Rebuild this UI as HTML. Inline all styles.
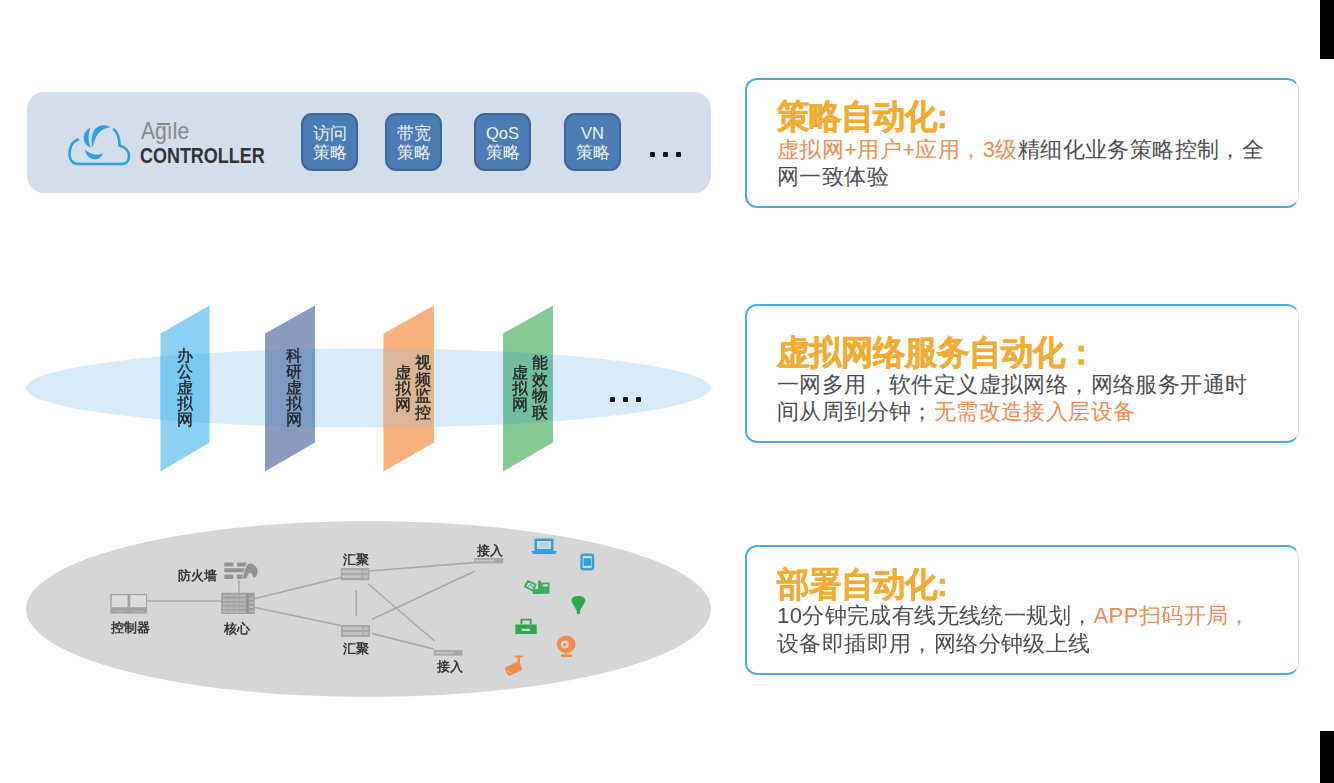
<!DOCTYPE html>
<html><head><meta charset="utf-8">
<style>
*{margin:0;padding:0;box-sizing:border-box}
html,body{width:1334px;height:783px;overflow:hidden;background:#fff}
body{position:relative;font-family:"Liberation Sans",sans-serif}
.abs{position:absolute}
.blk{position:absolute;background:#000}
.panel{position:absolute;left:27px;top:92px;width:684px;height:101px;background:#d3deed;border-radius:17px}
.pb{position:absolute;top:113px;width:57px;height:58px;background:#4a7db5;border:2px solid #3e6796;border-radius:11px;color:#eef3f9;font-size:17px;line-height:19px;text-align:center;padding-top:9px}
.dot{position:absolute;width:5px;height:5px;background:#111;border-radius:1px}
.card{position:absolute;left:745px;width:554px;border:2.5px solid #4aaee6;border-right:1.5px solid #cfe6f7;border-radius:12px;background:#fff}
.ttl{position:absolute;left:777px;font-size:32px;font-weight:bold;color:#f3ab32;white-space:nowrap;line-height:40px;transform:scaleY(1.05);transform-origin:0 0;-webkit-text-stroke:0.6px #f3ab32}
.txt{position:absolute;left:777px;font-size:22px;letter-spacing:0.4px;color:#4d4d4d;white-space:nowrap;line-height:27.4px}
.or{color:#f08a50}
.vt{position:absolute;font-size:16px;line-height:16px;color:#222;white-space:nowrap;-webkit-text-stroke:0.35px #222}
.nl{position:absolute;font-size:13px;font-weight:bold;color:#333;white-space:nowrap;line-height:14px}
</style></head><body><div id="wrap" style="position:absolute;left:0;top:0;width:1334px;height:783px;filter:blur(0.35px)">
<div class="blk" style="left:1320px;top:0;width:14px;height:59px"></div>
<div class="blk" style="left:1320px;top:731px;width:14px;height:52px"></div>

<!-- top panel -->
<div class="panel"></div>
<svg class="abs" style="left:60px;top:110px" width="80" height="65" viewBox="0 0 80 65">
 <path d="M18 29.5 C12 32 9.5 38 9.5 44 C9.5 50 13 54 18 54 L62 54 C66 54 69 51 69 46 C69 41 65 37 59.5 35.5 C59.5 27 57 22 54 19.5" fill="none" stroke="#2ba2de" stroke-width="2.6" stroke-linecap="round"/>
 <path d="M32 36.5 C31.2 30 31.5 23 35.5 18.5 C39 15 45.5 13.8 50.8 17.3 C45.5 17.6 41 20.2 38 24 C35.3 27.5 33.6 32 32.9 36.5 Z" fill="#2ba2de"/>
 <path d="M30.7 17.8 C26 19.5 23.5 24 23.7 28.5 C23.9 32.5 26.5 36 30.7 37.5 C29.2 34 28.5 30 28.7 26 C28.9 23 29.7 20 30.7 17.8 Z" fill="#2ba2de"/>
 <path d="M24.9 39.8 C25.8 45 29.5 48.8 34.5 49.3 C38.5 49.5 41.5 47 43.2 43.2 C40.5 44.5 37.5 45 34.5 44.4 C31 43.8 27.5 42 24.9 39.8 Z" fill="#2ba2de"/>
</svg>
<div class="abs" style="left:141px;top:119px;font-size:24px;color:#888;line-height:24px;transform:scaleX(0.88);transform-origin:0 0;white-space:nowrap">Agıle</div><div class="abs" style="left:157.2px;top:123px;width:13px;height:1.5px;background:#888"></div>
<div class="abs" style="left:140px;top:144px;font-size:21.5px;font-weight:bold;color:#333;line-height:24px;transform:scaleX(0.835);transform-origin:0 0;white-space:nowrap">CONTROLLER</div>

<div class="pb" style="left:301px">访问<br>策略</div>
<div class="pb" style="left:385px">带宽<br>策略</div>
<div class="pb" style="left:474px;font-size:16.5px">QoS<br><span style="font-size:17px">策略</span></div>
<div class="pb" style="left:564px;font-size:16.5px">VN<br><span style="font-size:17px">策略</span></div>
<div class="dot" style="left:650px;top:152px"></div>
<div class="dot" style="left:663px;top:152px"></div>
<div class="dot" style="left:676px;top:152px"></div>

<!-- middle -->
<svg class="abs" style="left:0;top:290px" width="720" height="200" viewBox="0 290 720 200">
 <defs>
  <clipPath id="c1"><polygon points="160.5,333.5 209.5,305.5 209.5,442.5 160.5,471.5"/></clipPath>
  <clipPath id="c2"><polygon points="265,333.5 315,305.5 315,442.5 265,471.5"/></clipPath>
  <clipPath id="c3"><polygon points="383.5,333.5 434,305.5 434,442.5 383.5,471.5"/></clipPath>
  <clipPath id="c4"><polygon points="503,333.5 553,305.5 553,442.5 503,471.5"/></clipPath>
 </defs>
 <ellipse cx="368.3" cy="388" rx="342.3" ry="39.6" fill="#d9ebf9"/>
 <polygon points="160.5,333.5 209.5,305.5 209.5,442.5 160.5,471.5" fill="#8ad1f3"/>
 <polygon points="265,333.5 315,305.5 315,442.5 265,471.5" fill="#8a9bbf"/>
 <polygon points="383.5,333.5 434,305.5 434,442.5 383.5,471.5" fill="#f8b07c"/>
 <polygon points="503,333.5 553,305.5 553,442.5 503,471.5" fill="#86c995"/>
 <ellipse cx="368.3" cy="388" rx="342.3" ry="39.6" fill="#78c8ef" clip-path="url(#c1)"/>
 <ellipse cx="368.3" cy="388" rx="342.3" ry="39.6" fill="#7b9bc4" clip-path="url(#c2)"/>
 <ellipse cx="368.3" cy="388" rx="342.3" ry="39.6" fill="#dcb592" clip-path="url(#c3)"/>
 <ellipse cx="368.3" cy="388" rx="342.3" ry="39.6" fill="#6fbfa0" clip-path="url(#c4)"/>
</svg>
<div class="vt" style="left:176.5px;top:347.5px">办<br>公<br>虚<br>拟<br>网</div>
<div class="vt" style="left:285.5px;top:347.5px">科<br>研<br>虚<br>拟<br>网</div>
<div class="vt" style="left:414.5px;top:355px;line-height:16.5px">视<br>频<br>监<br>控</div>
<div class="vt" style="left:395px;top:365px">虚<br>拟<br>网</div>
<div class="vt" style="left:531.5px;top:355px;line-height:16.5px">能<br>效<br>物<br>联</div>
<div class="vt" style="left:512px;top:365px">虚<br>拟<br>网</div>
<div class="dot" style="left:610px;top:397px;width:4.5px;height:4.5px"></div>
<div class="dot" style="left:623px;top:397px;width:4.5px;height:4.5px"></div>
<div class="dot" style="left:636px;top:397px;width:4.5px;height:4.5px"></div>

<!-- bottom -->
<svg class="abs" style="left:0;top:500px" width="730" height="220" viewBox="0 500 730 220">
 <ellipse cx="368.5" cy="609" rx="342.5" ry="88" fill="#d6d6d8"/>

 <!-- controller -->
 <g>
  <rect x="110.3" y="593.9" width="36.8" height="19.7" fill="#a2a2a5"/>
  <rect x="111.7" y="595.1" width="15.8" height="12.1" fill="#dcdcde"/>
  <rect x="130.3" y="595.1" width="15.7" height="12.1" fill="#dcdcde"/>
  <rect x="115" y="610.8" width="10" height="1" fill="#b9b9bc"/>
  <rect x="133.5" y="610.8" width="10" height="1" fill="#b9b9bc"/>
 </g>
 <!-- core -->
 <g>
  <rect x="221.2" y="592.8" width="33.5" height="21.3" rx="1" fill="#9d9da0"/>
  <g fill="#b6b6b9">
   <rect x="222.6" y="594.4" width="23.5" height="2.5"/>
   <rect x="222.6" y="598.5" width="23.5" height="2.5"/>
   <rect x="222.6" y="602.6" width="23.5" height="2.5"/>
   <rect x="222.6" y="606.6" width="23.5" height="2.5"/>
   <rect x="222.6" y="610.6" width="23.5" height="2.5"/>
   <rect x="249" y="597.5" width="4.5" height="2"/>
   <rect x="249" y="601.8" width="4.5" height="2"/>
   <rect x="249" y="606" width="4.5" height="2"/>
   <rect x="249" y="610.2" width="4.5" height="2"/>
  </g>
  <g fill="#a4a4a7">
   <rect x="227.8" y="593" width="0.8" height="21"/>
   <rect x="233.5" y="593" width="0.8" height="21"/>
   <rect x="239.2" y="593" width="0.8" height="21"/>
  </g>
  <rect x="246.3" y="593.5" width="2.3" height="20" fill="#929295"/>
 </g>
 <!-- firewall -->
 <g fill="#939396">
  <rect x="224.3" y="562.4" width="9.1" height="4.2" rx="0.6"/>
  <path d="M237 562.4 H246.6 L245.3 566.6 H237 Z"/>
  <path d="M224.3 568.2 H244.8 L243.5 572.3 H224.3 Z"/>
  <rect x="224.3" y="574.6" width="9.1" height="4.3" rx="0.6"/>
  <path d="M236.8 574.6 H242.8 L241.5 578.9 H236.8 Z"/>
  <path d="M242.3 578.5 L246.3 566.5 C247.2 564 249 563.2 251 563.5 C255 564.3 257.6 568 257.6 572 C257.6 574.8 255.8 577 253.6 578.2 C253 576 252 573.5 250 572.8 C248.5 573.5 247.3 576 246.5 578.5 Z"/>
 </g>
 <!-- agg switches -->
 <g>
  <rect x="340.7" y="568" width="28.8" height="12.2" rx="1" fill="#a7a7a9"/>
  <rect x="342.5" y="570.3" width="19" height="2.6" fill="#c6c6c8"/>
  <rect x="342.5" y="575.3" width="19" height="2.6" fill="#c6c6c8"/>
  <rect x="363" y="570.3" width="5" height="2.6" fill="#c0c0c2"/>
  <rect x="363" y="575.3" width="5" height="2.6" fill="#c0c0c2"/>
  <rect x="341" y="625" width="29" height="12" rx="1" fill="#a7a7a9"/>
  <rect x="342.8" y="627.2" width="19" height="2.6" fill="#c6c6c8"/>
  <rect x="342.8" y="632.2" width="19" height="2.6" fill="#c6c6c8"/>
  <rect x="363.3" y="627.2" width="5" height="2.6" fill="#c0c0c2"/>
  <rect x="363.3" y="632.2" width="5" height="2.6" fill="#c0c0c2"/>
 </g>
 <!-- access switches -->
 <g>
  <rect x="474" y="558" width="29.3" height="5.4" fill="#a8a8aa"/>
  <rect x="475.5" y="559.8" width="19" height="1.8" fill="#c4c4c6"/>
  <rect x="433.8" y="650" width="28.7" height="5.7" fill="#a8a8aa"/>
  <rect x="435.3" y="651.9" width="19" height="1.8" fill="#c4c4c6"/>
 </g>
 <!-- laptop -->
 <g fill="#2fa3e0">
  <path d="M536 538.6 h16 a1.5 1.5 0 0 1 1.5 1.5 v10.8 h-19 v-10.8 a1.5 1.5 0 0 1 1.5 -1.5 Z M537 541 v8 h14 v-8 Z"/>
  <path d="M531.3 550.9 h25.8 l-1.8 3.2 h-22.2 Z"/>
  <rect x="540" y="543" width="8.5" height="3.5" fill="#9fd3f0"/>
 </g>
 <!-- phone -->
 <g>
  <rect x="581.5" y="554.8" width="11.5" height="14.5" rx="2" fill="none" stroke="#2fa3e0" stroke-width="2.4"/>
  <rect x="583.6" y="558.2" width="7.6" height="7.6" fill="#2fa3e0"/>
 </g>
 <!-- green machines -->
 <g fill="#3daf5a">
  <path d="M524.8 586.5 L528 581 L535.5 584.6 L533 590.8 Z" fill="none" stroke="#3daf5a" stroke-width="1.8" stroke-linejoin="round"/>
  <path d="M528 586.5 L531 584.5 L533 588" fill="none" stroke="#3daf5a" stroke-width="1"/>
  <rect x="532.5" y="589" width="8" height="5" rx="1"/>
  <rect x="538" y="580.5" width="3" height="13.5" rx="1"/>
  <path d="M541 582.5 H549.6 V593.8 H541 Z M542.7 584.2 V586.6 H547.9 V584.2 Z" fill-rule="evenodd"/>
 </g>
 <!-- bulb -->
 <g fill="#2aaa4a">
  <path d="M571.5 600.5 C571.5 597.8 574.5 596.1 578.4 596.1 C582.3 596.1 585.3 597.8 585.3 600.5 C585.3 602.5 583.5 604 580.2 610.5 L579.8 613.9 H577 L576.6 610.5 C573.3 604 571.5 602.5 571.5 600.5 Z"/>
 </g>
 <!-- printer -->
 <g fill="#2aaa4a">
  <path d="M520.5 618.8 h11.1 v5.5 h-1.8 v-3.7 h-7.5 v3.7 h-1.8 Z"/>
  <path d="M515.4 624.4 h21.3 v9.7 h-21.3 Z M521.6 628.7 v2.3 h8.6 v-2.3 Z" fill-rule="evenodd"/>
 </g>
 <!-- webcam -->
 <g fill="#f08c48">
  <path d="M566.2 635.6 a9.4 8.7 0 1 1 0 17.4 a9.4 8.7 0 1 1 0 -17.4 Z M564.8 640.6 a4 4 0 1 0 0 8 a4 4 0 1 0 0 -8 Z" fill-rule="evenodd"/>
  <circle cx="564.8" cy="644.6" r="1.5"/>
  <rect x="565.5" y="652" width="1.6" height="3"/>
  <rect x="560.9" y="654.5" width="11.2" height="2.6" rx="1"/>
 </g>
 <!-- cctv -->
 <g fill="#f08c48">
  <rect x="514.4" y="655.6" width="8.7" height="2" rx="1"/>
  <rect x="517.6" y="657" width="2.4" height="5.5"/>
  <rect x="505.5" y="664" width="16" height="9.5" rx="2.2" transform="rotate(-24 513.5 668.7)"/>
  <path d="M506 670.5 L512 673.5" stroke="#f7b98c" stroke-width="0.8"/>
 </g>
 <g stroke="#a9a9ab" stroke-width="1.6" fill="none">
  <line x1="147" y1="601" x2="221" y2="601"/>
  <line x1="239" y1="580" x2="239" y2="593"/>
  <line x1="255" y1="598.5" x2="341" y2="577.5"/>
  <line x1="255" y1="607.5" x2="341" y2="625.5"/>
  <line x1="356.3" y1="590.3" x2="356.3" y2="616"/>
  <line x1="369.5" y1="571" x2="474" y2="562.6"/>
  <line x1="371.7" y1="619.5" x2="475" y2="571"/>
  <line x1="368.3" y1="584" x2="434.5" y2="641"/>
  <line x1="371.7" y1="633.4" x2="433.6" y2="649"/>
 </g>
</svg>
<div class="nl" style="left:111px;top:621px">控制器</div>
<div class="nl" style="left:224px;top:622px">核心</div>
<div class="nl" style="left:178px;top:569px">防火墙</div>
<div class="nl" style="left:343px;top:553px">汇聚</div>
<div class="nl" style="left:343px;top:642px">汇聚</div>
<div class="nl" style="left:477px;top:544px">接入</div>
<div class="nl" style="left:437px;top:660px">接入</div>

<!-- right cards -->
<div class="card" style="top:77.5px;height:130px"></div>
<div class="ttl" style="top:95px">策略自动化:</div>
<div class="txt" style="top:135.5px"><span class="or">虚拟网+用户+应用，3级</span>精细化业务策略控制，全</div>
<div class="txt" style="top:163px">网一致体验</div>

<div class="card" style="top:304px;height:139px"></div>
<div class="ttl" style="top:331px">虚拟网络服务自动化：</div>
<div class="txt" style="top:370.5px">一网多用，软件定义虚拟网络，网络服务开通时</div>
<div class="txt" style="top:398px">间从周到分钟；<span class="or">无需改造接入层设备</span></div>

<div class="card" style="top:544.5px;height:130px"></div>
<div class="ttl" style="top:563px">部署自动化:</div>
<div class="txt" style="top:602px">10分钟完成有线无线统一规划，<span class="or">APP扫码开局，</span></div>
<div class="txt" style="top:629.5px">设备即插即用，网络分钟级上线</div>
</div></body></html>
